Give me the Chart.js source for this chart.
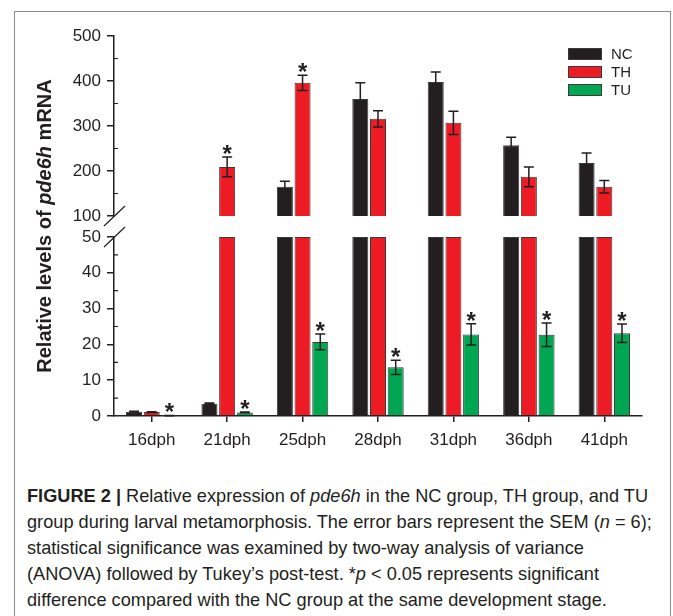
<!DOCTYPE html>
<html lang="en">
<head>
    <meta charset="UTF-8">
    <title>pde6h expression</title>
    <script src="https://cdn.jsdelivr.net/npm/chart.js"></script>
    <style>
        body { margin: 0; background: #fff; }
        #frame {
            position: absolute; left: 14px; top: 11px; width: 655px; height: 640px;
            border: 1.5px solid #8c8c8c;
        }
        #wrap { position: absolute; left: 0; top: 0; width: 673px; height: 470px; }
        .caption {
            position: absolute; left: 27px; top: 483px;
            font-family: "Liberation Sans", Arial, sans-serif;
            font-size: 19px; line-height: 26px; color: #231f20; white-space: nowrap;
            transform-origin: left top;
        }
    </style>
</head>
<body>
    <div id="frame"></div>
    <div id="wrap"><canvas id="grafico"></canvas></div>
    <div class="caption" id="legenda">
        <div><b>FIGURE 2 |</b> Relative expression of <i>pde6h</i> in the NC group, TH group, and TU</div>
        <div>group during larval metamorphosis. The error bars represent the SEM (<i>n</i> = 6);</div>
        <div>statistical significance was examined by two-way analysis of variance</div>
        <div>(ANOVA) followed by Tukey’s post-test. *<i>p</i> &lt; 0.05 represents significant</div>
        <div>difference compared with the NC group at the same development stage.</div>
    </div>

<script>
    const stages = ['16dph', '21dph', '25dph', '28dph', '31dph', '36dph', '41dph'];
    const groups = ['NC', 'TH', 'TU'];
    const cores = ['#231f20', '#ed1c24', '#00a651'];

    const nc = [1.2, 3.4, 165, 360, 398, 257, 218];
    const ncSem = [0.1, 0.2, 12, 36, 22, 18, 22];
    const th = [1.1, 209, 396, 316, 307, 187, 165];
    const thSem = [0.1, 22, 17, 18, 26, 22, 14];
    const tu = [0.1, 1.0, 20.7, 13.6, 22.8, 22.7, 23.1];
    const tuSem = [0.05, 0.1, 2.2, 2.0, 3.0, 3.3, 2.6];

    // asterisks: p < 0.05 vs NC
    const thSig = [0, 1, 1, 0, 0, 0, 0];
    const tuSig = [1, 1, 1, 1, 1, 1, 1];

    // broken axis: two panels
    const lowTicks = { min: 0, max: 50, step: 10 };
    const highTicks = { min: 100, max: 500, step: 100 };

    const tinta = '#231f20';
    const fonte = '"Liberation Sans", Arial, sans-serif';

    function baixo(arr) { return arr.map(v => Math.min(v, lowTicks.max)); }
    function alto(arr) { return arr.map(v => v >= highTicks.min ? v : null); }

    function serie(label, data, raw, sem, sig, cor, eixo) {
        return {
            label: label, data: data, raw: raw, sem: sem, sig: sig,
            yAxisID: eixo, stack: label,
            backgroundColor: cor, borderColor: '#3a3a3a', borderWidth: 1,
            categoryPercentage: 0.704, barPercentage: 0.905
        };
    }

    const zeros = [0, 0, 0, 0, 0, 0, 0];

    const extras = {
        id: 'extras',
        afterDatasetsDraw(chart) {
            const ctx = chart.ctx;
            ctx.save();
            chart.data.datasets.forEach((ds, di) => {
                const meta = chart.getDatasetMeta(di);
                const ys = chart.scales[ds.yAxisID];
                ds.raw.forEach((v, i) => {
                    if (v > ys.max || v < ys.min) return;
                    const bar = meta.data[i];
                    const yt = ys.getPixelForValue(v + ds.sem[i]);
                    const yb = ys.getPixelForValue(Math.max(v - ds.sem[i], ys.min));
                    ctx.strokeStyle = tinta;
                    ctx.lineWidth = 1.5;
                    ctx.beginPath();
                    ctx.moveTo(bar.x, yt); ctx.lineTo(bar.x, yb);
                    ctx.moveTo(bar.x - 5, yt); ctx.lineTo(bar.x + 5, yt);
                    ctx.moveTo(bar.x - 5, yb); ctx.lineTo(bar.x + 5, yb);
                    ctx.stroke();
                    if (ds.sig[i]) {
                        ctx.fillStyle = tinta;
                        ctx.font = 'bold 24px ' + fonte;
                        ctx.textAlign = 'center';
                        ctx.textBaseline = 'alphabetic';
                        ctx.fillText('*', bar.x, yt + 5);
                    }
                });
            });
            ctx.restore();
        },
        afterDraw(chart) {
            const ctx = chart.ctx;
            const left = chart.chartArea.left;
            const hi = chart.scales.yHigh;
            const lo = chart.scales.yLow;
            ctx.save();
            ctx.strokeStyle = tinta;
            ctx.lineWidth = 1.2;

            // minor ticks inside
            ctx.beginPath();
            for (let v = 150; v < 500; v += 100) {
                const y = hi.getPixelForValue(v);
                ctx.moveTo(left, y); ctx.lineTo(left + 4, y);
            }
            for (let v = 5; v < 50; v += 10) {
                const y = lo.getPixelForValue(v);
                ctx.moveTo(left, y); ctx.lineTo(left + 4, y);
            }
            // break marks
            [hi.getPixelForValue(highTicks.min), lo.getPixelForValue(lowTicks.max)].forEach(y => {
                ctx.moveTo(left - 10, y + 10); ctx.lineTo(left + 11, y - 10);
            });
            ctx.stroke();

            // y title with italic gene name
            const partes = [['Relative levels of ', 'bold'], ['pde6h', 'italic bold'], [' mRNA', 'bold']];
            ctx.translate(45, (hi.top + lo.bottom) / 2);
            ctx.rotate(-Math.PI / 2);
            ctx.fillStyle = tinta;
            ctx.textBaseline = 'middle';
            ctx.textAlign = 'left';
            let total = 0;
            partes.forEach(p => { ctx.font = p[1] + ' 20px ' + fonte; total += ctx.measureText(p[0]).width; });
            let x = -total / 2;
            partes.forEach(p => {
                ctx.font = p[1] + ' 20px ' + fonte;
                ctx.fillText(p[0], x, 0);
                x += ctx.measureText(p[0]).width;
            });
            ctx.restore();

            // legend
            ctx.save();
            ctx.font = '15px ' + fonte;
            ctx.textBaseline = 'middle';
            groups.forEach((g, k) => {
                const y = 48 + k * 18;
                ctx.fillStyle = cores[k];
                ctx.fillRect(568, y, 34, 12);
                ctx.strokeStyle = '#3a3a3a';
                ctx.lineWidth = 1;
                ctx.strokeRect(568.5, y + 0.5, 33, 11);
                ctx.fillStyle = tinta;
                ctx.fillText(g, 611, y + 6.5);
            });
            ctx.restore();
        }
    };

    function eixoY(t, peso) {
        return {
            type: 'linear', position: 'left', stack: 'y', stackWeight: peso,
            min: t.min, max: t.max, beginAtZero: false, stacked: false,
            ticks: { stepSize: t.step, autoSkip: false, color: tinta, padding: 6, font: { size: 17, family: fonte } },
            grid: { drawOnChartArea: false, tickLength: 7, color: tinta, lineWidth: 1.5 },
            border: { color: tinta, width: 1.5 },
            afterFit: s => { s.width = 114; }
        };
    }

    function gerarGrafico() {
        const ctx = document.getElementById('grafico');
        new Chart(ctx, {
            type: 'bar',
            data: {
                labels: stages,
                datasets: [
                    serie('NC', baixo(nc), nc, ncSem, zeros, cores[0], 'yLow'),
                    serie('TH', baixo(th), th, thSem, thSig, cores[1], 'yLow'),
                    serie('TU', baixo(tu), tu, tuSem, tuSig, cores[2], 'yLow'),
                    serie('NC', alto(nc), nc, ncSem, zeros, cores[0], 'yHigh'),
                    serie('TH', alto(th), th, thSem, thSig, cores[1], 'yHigh')
                ]
            },
            options: {
                responsive: true,
                maintainAspectRatio: false,
                animation: false,
                layout: { padding: { top: 36, right: 31, left: 0, bottom: 0 } },
                scales: {
                    x: {
                        stacked: true,
                        ticks: { color: tinta, padding: 8, font: { size: 17, family: fonte } },
                        grid: { drawOnChartArea: false, offset: false, tickLength: 6, color: tinta, lineWidth: 1.5 },
                        border: { color: tinta, width: 1.5 },
                        afterFit: s => { s.height = 54; }
                    },
                    yLow: eixoY(lowTicks, 179),
                    yGap: {
                        type: 'linear', position: 'left', stack: 'y', stackWeight: 21, display: true,
                        min: 0, max: 1,
                        ticks: { display: false }, grid: { display: false }, border: { display: false },
                        afterFit: s => { s.width = 114; }
                    },
                    yHigh: eixoY(highTicks, 180)
                },
                plugins: {
                    legend: { display: false },
                    tooltip: { enabled: false }
                }
            },
            plugins: [extras]
        });
    }

    gerarGrafico();

    // caption typeface in the figure is condensed
    const legenda = document.getElementById('legenda');
    legenda.style.transform = 'scaleX(' + (625 / legenda.offsetWidth) + ')';
</script>
</body>
</html>
